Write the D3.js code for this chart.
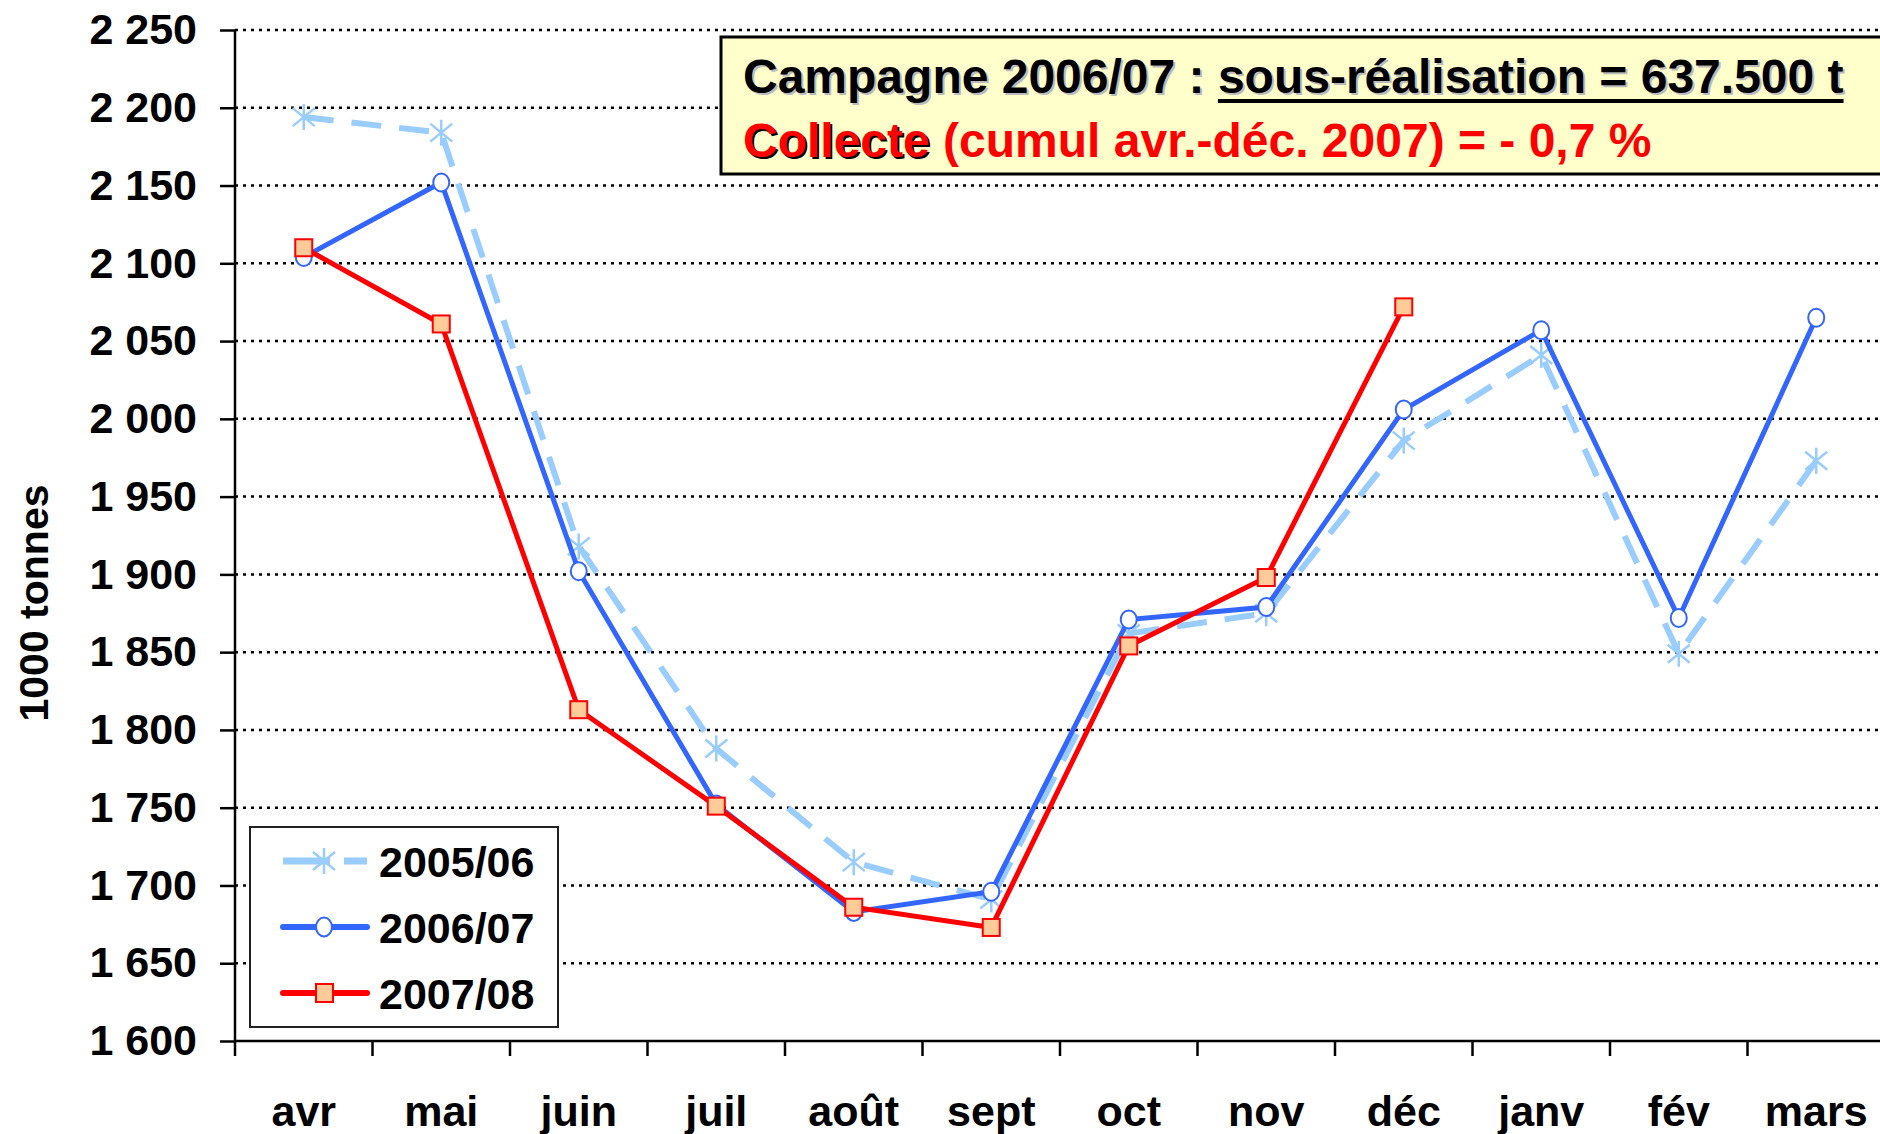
<!DOCTYPE html>
<html>
<head>
<meta charset="utf-8">
<script src="https://cdn.jsdelivr.net/npm/d3@7"></script>
<style>
  html, body { margin: 0; padding: 0; background: #fff; overflow: hidden; }
  svg { display: block; }
  text { font-family: "Liberation Sans", Arial, sans-serif; font-weight: bold; white-space: pre; }
</style>
</head>
<body>
<svg id="chart" width="1880" height="1134"></svg>
<script>
const months = ["avr", "mai", "juin", "juil", "août", "sept", "oct", "nov", "déc", "janv", "fév", "mars"];
const seriesNames = ["2005/06", "2006/07", "2007/08"];
const values0506 = [2194, 2184, 1918, 1788, 1715, 1691, 1862, 1875, 1986, 2041, 1849, 1973];
const values0607 = [2104, 2152, 1902, 1752, 1683, 1696, 1871, 1879, 2006, 2057, 1872, 2065];
const values0708 = [2110, 2061, 1813, 1751, 1686, 1673, 1854, 1898, 2072];
const yTicks = [1600, 1650, 1700, 1750, 1800, 1850, 1900, 1950, 2000, 2050, 2100, 2150, 2200, 2250];
const yTitle = "1000 tonnes";
const noteLine1a = "Campagne 2006/07 : ";
const noteLine1b = "sous-réalisation = 637.500 t";
const noteLine2a = "Collecte";
const noteLine2b = " (cumul avr.-déc. 2007) = - 0,7 %";

const svg = d3.select("#chart");
const pLeft = 235, pRight = 1885, pTop = 30, pBottom = 1041;

const x = d3.scaleBand().domain(months).range([pLeft, pRight]);
const y = d3.scaleLinear().domain([1600, 2250]).range([pBottom, pTop]);
const fmt = d3.formatLocale({ decimal: ",", thousands: " ", grouping: [3], currency: ["", ""] }).format(",d");

// gridlines
svg.append("g").selectAll("line").data(yTicks.filter(v => v > 1600)).join("line")
  .attr("x1", pLeft).attr("x2", pRight)
  .attr("y1", d => y(d)).attr("y2", d => y(d))
  .attr("stroke", "#000").attr("stroke-width", 2.5).attr("stroke-dasharray", "3,5");

// y axis
const yAxis = svg.append("g").attr("transform", `translate(${pLeft},0)`)
  .call(d3.axisLeft(y).tickValues(yTicks).tickSize(15).tickPadding(23).tickFormat(fmt));
yAxis.select(".domain").attr("stroke", "#000").attr("stroke-width", 2.5).attr("d", `M0,${pTop}V${pBottom}`);
yAxis.selectAll(".tick line").attr("stroke", "#000").attr("stroke-width", 2.5);
yAxis.selectAll(".tick text").attr("fill", "#000").style("font-size", "43px").style("font-family", "Liberation Sans, Arial, sans-serif").style("font-weight", "bold");

// x axis
const xAxis = svg.append("g").attr("transform", `translate(0,${pBottom})`)
  .call(d3.axisBottom(x).tickSize(0).tickPadding(54));
xAxis.select(".domain").attr("stroke", "#000").attr("stroke-width", 2.5).attr("d", `M${pLeft},0H${pRight}`);
xAxis.selectAll(".tick text").attr("fill", "#000").style("font-size", "43px").style("font-family", "Liberation Sans, Arial, sans-serif").style("font-weight", "bold");
const bounds = months.map(m => x(m)).concat([x(months[months.length - 1]) + x.bandwidth()]);
xAxis.append("g").selectAll("line").data(bounds).join("line")
  .attr("x1", d => d).attr("x2", d => d).attr("y1", 0).attr("y2", 15)
  .attr("stroke", "#000").attr("stroke-width", 2.5);

// y title
svg.append("text").attr("transform", `translate(48,603) rotate(-90)`)
  .attr("text-anchor", "middle").style("font-size", "41px").attr("fill", "#000").text(yTitle);

const cx = (i) => x(months[i]) + x.bandwidth() / 2;

const colors = { s0: "#99CCFF", s1: "#3366FF", s2: "#FF0000" };

function asterisk(g, px, py, color) {
  const p = `M${px},${py - 13}V${py + 13}M${px - 11},${py - 9}L${px + 11},${py + 9}M${px - 11},${py + 9}L${px + 11},${py - 9}`;
  g.append("path").attr("d", p).attr("stroke", color).attr("stroke-width", 2.5).attr("fill", "none");
}

// series 2005/06
const line = d3.line().x((d, i) => cx(i)).y(d => y(d));
svg.append("path").datum(values0506).attr("d", line)
  .attr("fill", "none").attr("stroke", colors.s0).attr("stroke-width", 6).attr("stroke-dasharray", "30,18");
const g0 = svg.append("g");
values0506.forEach((v, i) => asterisk(g0, cx(i), y(v), colors.s0));

// series 2006/07
svg.append("path").datum(values0607).attr("d", line)
  .attr("fill", "none").attr("stroke", colors.s1).attr("stroke-width", 5);
svg.append("g").selectAll("ellipse").data(values0607).join("ellipse")
  .attr("cx", (d, i) => cx(i)).attr("cy", d => y(d)).attr("rx", 8).attr("ry", 9)
  .attr("fill", "#fff").attr("stroke", colors.s1).attr("stroke-width", 2);

// series 2007/08
svg.append("path").datum(values0708).attr("d", line)
  .attr("fill", "none").attr("stroke", colors.s2).attr("stroke-width", 5);
svg.append("g").selectAll("rect").data(values0708).join("rect")
  .attr("x", (d, i) => cx(i) - 8.5).attr("y", d => y(d) - 8.5).attr("width", 17).attr("height", 17)
  .attr("fill", "#FFCC99").attr("stroke", colors.s2).attr("stroke-width", 2);

// legend
const lg = svg.append("g");
lg.append("rect").attr("x", 250).attr("y", 827).attr("width", 308).attr("height", 200)
  .attr("fill", "#fff").attr("stroke", "#222").attr("stroke-width", 2);
const rowsY = [861, 927, 993];
seriesNames.forEach((name, k) => {
  const yy = rowsY[k];
  if (k === 0) {
    lg.append("line").attr("x1", 283).attr("x2", 367).attr("y1", yy).attr("y2", yy)
      .attr("stroke", colors.s0).attr("stroke-width", 7).attr("stroke-dasharray", "47,14,24");
    asterisk(lg, 324, yy, colors.s0);
  } else if (k === 1) {
    lg.append("line").attr("x1", 283).attr("x2", 367).attr("y1", yy).attr("y2", yy)
      .attr("stroke", colors.s1).attr("stroke-width", 6).attr("stroke-linecap", "round");
    lg.append("ellipse").attr("cx", 324).attr("cy", yy).attr("rx", 8).attr("ry", 9.5)
      .attr("fill", "#fff").attr("stroke", colors.s1).attr("stroke-width", 2);
  } else {
    lg.append("line").attr("x1", 283).attr("x2", 367).attr("y1", yy).attr("y2", yy)
      .attr("stroke", colors.s2).attr("stroke-width", 6).attr("stroke-linecap", "round");
    lg.append("rect").attr("x", 316).attr("y", yy - 9).attr("width", 17).attr("height", 18)
      .attr("fill", "#FFCC99").attr("stroke", colors.s2).attr("stroke-width", 2);
  }
  lg.append("text").attr("x", 379).attr("y", yy + 16).style("font-size", "43px").attr("fill", "#000").text(name);
});

// annotation box
const ng = svg.append("g");
ng.append("rect").attr("x", 721).attr("y", 37).attr("width", 1200).attr("height", 137)
  .attr("fill", "#FFFFCC").attr("stroke", "#000").attr("stroke-width", 3);
const tx = 743, b1 = 93, b2 = 157;
function shadowText(xx, yy, txt, fill, shadow) {
  ng.append("text").attr("x", xx + 2).attr("y", yy + 2).style("font-size", "48px").attr("fill", shadow).text(txt);
  return ng.append("text").attr("x", xx).attr("y", yy).style("font-size", "48px").attr("fill", fill).text(txt);
}
const t1a = shadowText(tx, b1, noteLine1a, "#000", "#bbb");
const w1a = t1a.node().getComputedTextLength();
const t1b = shadowText(tx + w1a, b1, noteLine1b, "#000", "#bbb");
const w1b = t1b.node().getComputedTextLength();
ng.append("rect").attr("x", tx + w1a).attr("y", b1 + 6).attr("width", w1b).attr("height", 4).attr("fill", "#000");
const t2a = shadowText(tx, b2, noteLine2a, "#FF0000", "#000");
const w2a = t2a.node().getComputedTextLength();
ng.append("text").attr("x", tx + w2a).attr("y", b2).style("font-size", "48px").attr("fill", "#FF0000").text(noteLine2b);
</script>
</body>
</html>
